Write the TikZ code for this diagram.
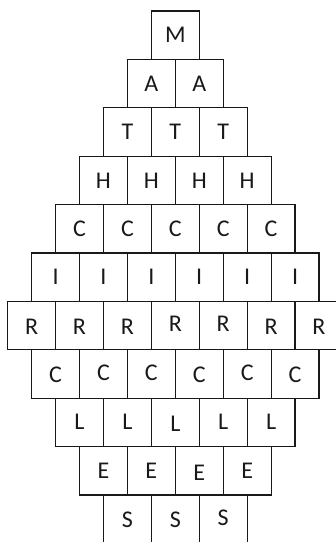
\documentclass[tikz,border=0pt]{standalone}
\usepackage{fontspec}
\setmainfont{Carlito}
\usepackage{tikz}
\usetikzlibrary{positioning}

\begin{document}
\begin{tikzpicture}[x=1pt,y=1pt,font=\fontsize{24}{28}\selectfont,
  cell/.style={draw=black!90,line width=1.2pt,minimum width=47.9pt,minimum height=48.4pt,
    inner sep=0pt,outer sep=0pt,text height=15.5pt,text depth=0pt,text=black!90}]
  \useasboundingbox (0,0) rectangle (336,-542);
  % rows from top to bottom, nodes named by letter and column
  \node[cell] (m1) at (175.3,-35.2) {M};
  \foreach \j/\dy in {1/0,2/0}
    \node[cell] (a\j) at ({175.3+(\j-1.5)*47.9},-83.6) {\raisebox{\dy pt}{A}};
  \foreach \j/\dy in {1/0,2/0,3/0}
    \node[cell] (t\j) at ({175.3+(\j-2)*47.9},-132.0) {\raisebox{\dy pt}{T}};
  \foreach \j/\dy in {1/0,2/0,3/0,4/0}
    \node[cell] (h\j) at ({175.3+(\j-2.5)*47.9},-180.4) {\raisebox{\dy pt}{H}};
  \foreach \j/\dy in {1/0,2/0,3/0,4/0,5/0}
    \node[cell] (c\j) at ({175.3+(\j-3)*47.9},-228.8) {\raisebox{\dy pt}{C}};
  \foreach \j/\dy in {1/0,2/0,3/0,4/0,5/0,6/0}
    \node[cell] (i\j) at ({175.3+(\j-3.5)*47.9},-277.2) {\raisebox{\dy pt}{I}};
  \foreach \j/\dy in {1/-1,2/-1,3/-1,4/2,5/2,6/-1,7/-1}
    \node[cell] (r\j) at ({175.3+(\j-4)*47.9},-325.6) {\raisebox{\dy pt}{R}};
  \foreach \j/\dy in {1/-0.8,2/0.8,3/0.8,4/-0.8,5/0.8,6/-0.8}
    \node[cell] (cc\j) at ({175.3+(\j-3.5)*47.9},-374.0) {\raisebox{\dy pt}{C}};
  \foreach \j/\dy in {1/0.5,2/0.5,3/-1.5,4/0.5,5/0.5}
    \node[cell] (l\j) at ({175.3+(\j-3)*47.9},-422.4) {\raisebox{\dy pt}{L}};
  \foreach \j/\dy in {1/0.5,2/0.5,3/-1.5,4/0.5}
    \node[cell] (e\j) at ({175.3+(\j-2.5)*47.9},-470.8) {\raisebox{\dy pt}{E}};
  \foreach \j/\dy in {1/-0.7,2/-0.7,3/1.5}
    \node[cell] (s\j) at ({175.3+(\j-2)*47.9},-519.2) {\raisebox{\dy pt}{S}};
\end{tikzpicture}
\end{document}
